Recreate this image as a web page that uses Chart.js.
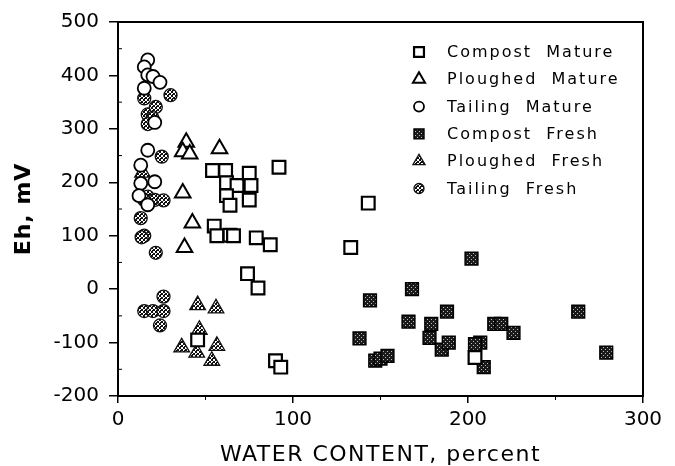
<!DOCTYPE html>
<html>
<head>
<meta charset="utf-8">
<script src="https://cdn.jsdelivr.net/npm/chart.js@4"></script>
<style>
  html, body { margin: 0; padding: 0; background: #fff; }
  #wrap { width: 675px; height: 466px; }
</style>
</head>
<body>
<div id="wrap"><canvas id="ehChart" width="675" height="466"></canvas></div>
<script>
// water content (percent) / Eh (mV)
const compostMatureX = [54, 61.5, 62, 68, 75, 76, 75, 62, 64, 92, 55, 56.5, 64, 66, 79, 87, 74, 80, 133, 143, 45.5, 90, 93, 204];
const compostMatureY = [222, 222, 199, 194, 217, 194, 167, 175, 157, 228, 118, 100, 101, 100, 96, 83, 29, 2, 78, 161, -95, -134, -146, -128];

const ploughedMatureX = [39, 37, 41, 58, 37, 42.5, 38];
const ploughedMatureY = [275, 257, 253, 263, 180, 124, 78];

const tailingMatureX = [17, 15, 17, 20, 24, 15, 21, 17, 13, 13, 21, 12, 17];
const tailingMatureY = [429, 416, 401, 398, 387, 376, 312, 260, 232, 198, 201, 175, 158];

const compostFreshX = [202, 168, 144, 166, 188, 263, 138, 179, 178, 185, 189, 207, 204, 215, 219, 226, 209, 279, 147, 150, 154];
const compostFreshY = [57, 0, -21, -61, -42, -42, -92, -65, -91, -113, -100, -100, -103, -65, -65, -82, -146, -119, -134, -130, -125];

const ploughedFreshX = [45.5, 56, 46.5, 36.4, 45, 56.5, 53.6, 14];
const ploughedFreshY = [-30, -36, -76, -109, -119, -106, -134, 218];

const tailingFreshX = [15, 30, 17, 21.6, 19.7, 17, 25, 17, 21, 26, 15, 13, 15, 13.5, 21.6, 26, 15, 20, 26, 24];
const tailingFreshY = [357, 363, 327, 341, 320, 309, 248, 173, 167, 166, 167, 133, 100, 97, 68, -14, -41, -41, -41, -68];

const seriesNames = ["Compost  Mature", "Ploughed  Mature", "Tailing  Mature", "Compost  Fresh", "Ploughed  Fresh", "Tailing  Fresh"];
const xTicks = [0, 100, 200, 300];
const yTicks = [-200, -100, 0, 100, 200, 300, 400, 500];
const xTitle = "WATER CONTENT, percent";
const yTitle = "Eh, mV";

function toPoints(xs, ys) {
    return xs.map((x, i) => ({ x: x, y: ys[i] }));
}

// hatch fills for the "fresh" markers
const darkHatch = (function () {
    const c = document.createElement("canvas");
    c.width = 4; c.height = 4;
    const g = c.getContext("2d");
    g.fillStyle = "#1a1a1a";
    g.fillRect(0, 0, 4, 4);
    g.fillStyle = "#bbb";
    g.fillRect(1, 1, 1, 1);
    g.fillRect(3, 3, 1, 1);
    return g.createPattern(c, "repeat");
})();
const greyHatch = (function () {
    const c = document.createElement("canvas");
    c.width = 4; c.height = 4;
    const g = c.getContext("2d");
    g.fillStyle = "#fff";
    g.fillRect(0, 0, 4, 4);
    g.fillStyle = "#111";
    for (let i = 0; i < 4; i++) {
        g.fillRect(i, i, 1, 1);
        g.fillRect(3 - i, i, 1, 1);
    }
    g.fillRect(0, 2, 1, 1);
    return g.createPattern(c, "repeat");
})();

const datasets = [
    { label: seriesNames[0], data: toPoints(compostMatureX, compostMatureY), pointStyle: "rect", pointRadius: 9, backgroundColor: "#fff", borderColor: "#000", borderWidth: 2.2 },
    { label: seriesNames[1], data: toPoints(ploughedMatureX, ploughedMatureY), pointStyle: "triangle", pointRadius: 9, backgroundColor: "#fff", borderColor: "#000", borderWidth: 2 },
    { label: seriesNames[2], data: toPoints(tailingMatureX, tailingMatureY), pointStyle: "circle", pointRadius: 6.5, backgroundColor: "#fff", borderColor: "#000", borderWidth: 1.8 },
    { label: seriesNames[3], data: toPoints(compostFreshX, compostFreshY), pointStyle: "rect", pointRadius: 9, backgroundColor: darkHatch, borderColor: "#000", borderWidth: 1.5 },
    { label: seriesNames[4], data: toPoints(ploughedFreshX, ploughedFreshY), pointStyle: "triangle", pointRadius: 9, backgroundColor: greyHatch, borderColor: "#111", borderWidth: 1.3 },
    { label: seriesNames[5], data: toPoints(tailingFreshX, tailingFreshY), pointStyle: "circle", pointRadius: 6.5, backgroundColor: greyHatch, borderColor: "#111", borderWidth: 1.3 }
];

// box around the plot, minor ticks, axis titles and the in-plot legend
const framePlugin = {
    id: "frame",
    afterDatasetsDraw(chart) {
        const { ctx, chartArea: a, scales } = chart;
        ctx.save();
        ctx.strokeStyle = "#000";
        ctx.lineWidth = 2;
        ctx.strokeRect(a.left, a.top, a.right - a.left, a.bottom - a.top);

        ctx.lineWidth = 1;
        ctx.beginPath();
        for (let v = -150; v < 500; v += 100) {
            const py = scales.y.getPixelForValue(v);
            ctx.moveTo(a.left, py);
            ctx.lineTo(a.left + 4, py);
        }
        for (let v = 50; v < 300; v += 100) {
            const px = scales.x.getPixelForValue(v);
            ctx.moveTo(px, a.bottom);
            ctx.lineTo(px, a.bottom + 4);
        }
        ctx.stroke();

        // axis titles
        ctx.fillStyle = "#000";
        ctx.textAlign = "center";
        ctx.textBaseline = "alphabetic";
        ctx.letterSpacing = "1.5px";
        ctx.font = "22px 'DejaVu Sans'";
        ctx.fillText(xTitle, (a.left + a.right) / 2, 461);

        ctx.save();
        ctx.translate(30, (a.top + a.bottom) / 2);
        ctx.rotate(-Math.PI / 2);
        ctx.letterSpacing = "1px";
        ctx.font = "bold 22px 'DejaVu Sans'";
        ctx.fillText(yTitle, 0, 0);
        ctx.restore();

        // legend
        ctx.letterSpacing = "2px";
        ctx.font = "16px 'DejaVu Sans'";
        ctx.textBaseline = "middle";
        ctx.textAlign = "left";
        chart.data.datasets.forEach((ds, i) => {
            const y = 52 + i * 27.3;
            ctx.fillStyle = ds.backgroundColor;
            ctx.strokeStyle = ds.borderColor;
            ctx.lineWidth = ds.borderWidth;
            const r = ds.pointStyle === "circle" ? 5 : 7;
            Chart.helpers.drawPoint(ctx, { pointStyle: ds.pointStyle, radius: r, rotation: 0, borderWidth: ds.borderWidth }, 419, y);
            ctx.fillStyle = "#000";
            ctx.fillText(ds.label, 447, y + 1);
        });
        ctx.restore();
    }
};

const ctx = document.getElementById("ehChart").getContext("2d");

new Chart(ctx, {
    type: "scatter",
    data: { datasets: datasets },
    options: {
        responsive: false,
        animation: false,
        layout: { padding: { top: 16, right: 32, left: 0, bottom: 0 } },
        plugins: {
            legend: { display: false },
            tooltip: { enabled: false }
        },
        scales: {
            x: {
                type: "linear",
                min: 0,
                max: 300,
                afterBuildTicks(scale) {
                    scale.ticks = xTicks.map(v => ({ value: v }));
                },
                afterFit(scale) { scale.height = 70; },
                border: { display: true, color: "#000", width: 2 },
                grid: { drawOnChartArea: false, drawTicks: true, tickLength: 7, color: "#000", lineWidth: 1.5 },
                ticks: { color: "#000", font: { family: "DejaVu Sans", size: 20 }, padding: 5, maxRotation: 0 }
            },
            y: {
                type: "linear",
                min: -200,
                max: 500,
                afterBuildTicks(scale) {
                    scale.ticks = yTicks.map(v => ({ value: v }));
                },
                afterFit(scale) { scale.width = 118; },
                border: { display: true, color: "#000", width: 2 },
                grid: { drawOnChartArea: false, drawTicks: true, tickLength: 9, color: "#000", lineWidth: 1.5 },
                ticks: { color: "#000", font: { family: "DejaVu Sans", size: 20 }, padding: 10 }
            }
        }
    },
    plugins: [framePlugin]
});
</script>
</body>
</html>
